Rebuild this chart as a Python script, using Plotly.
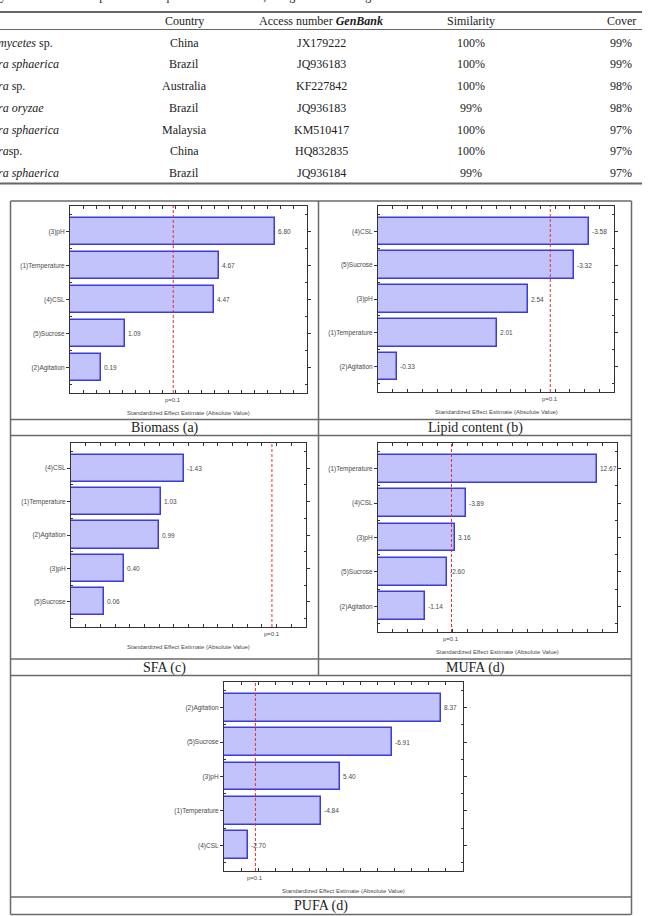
import plotly.graph_objects as go

W, H = 648, 916

# ---------------- table data ----------------
species = ["<i>mycetes</i> sp.", "<i>ra sphaerica</i>", "<i>ra</i> sp.", "<i>ra oryzae</i>",
           "<i>ra sphaerica</i>", "<i>ra</i>sp.", "<i>ra sphaerica</i>"]
countries = ["China", "Brazil", "Australia", "Brazil", "Malaysia", "China", "Brazil"]
accessions = ["JX179222", "JQ936183", "KF227842", "JQ936183", "KM510417", "HQ832835", "JQ936184"]
similarity = ["100%", "100%", "100%", "99%", "100%", "100%", "99%"]
cover = ["99%", "99%", "98%", "98%", "97%", "97%", "97%"]
headers = ["Country", "Access number <b><i>GenBank</i></b>", "Similarity", "Cover"]

# ---------------- Pareto data ----------------
biomass_labels = ["(3)pH", "(1)Temperature", "(4)CSL", "(5)Sucrose", "(2)Agitation"]
biomass_effects = [6.80, 4.67, 4.47, 1.09, 0.19]

lipid_labels = ["(4)CSL", "(5)Sucrose", "(3)pH", "(1)Temperature", "(2)Agitation"]
lipid_effects = [-3.58, -3.32, 2.54, 2.01, -0.33]

sfa_labels = ["(4)CSL", "(1)Temperature", "(2)Agitation", "(3)pH", "(5)Sucrose"]
sfa_effects = [-1.43, 1.03, 0.99, 0.40, 0.06]

mufa_labels = ["(1)Temperature", "(4)CSL", "(3)pH", "(5)Sucrose", "(2)Agitation"]
mufa_effects = [12.67, -3.89, 3.16, -2.60, -1.14]

pufa_labels = ["(2)Agitation", "(5)Sucrose", "(3)pH", "(1)Temperature", "(4)CSL"]
pufa_effects = [8.37, -6.91, 5.40, -4.84, -2.70]

p_crit = 2.92
captions = ["Biomass (a)", "Lipid content (b)", "SFA (c)", "MUFA (d)", "PUFA (d)"]


def px(x):
    return x / W


def py(y):
    return 1 - y / H


# panel layout (pixels): plot x0,x1,y0,y1 ; x-range ; tick step ; caption center x,y
panels = [
    dict(lab=biomass_labels, eff=biomass_effects, box=(70, 307, 206, 393), xr=(-1, 8), dt=0.5, cap=(164.5, 427.5)),
    dict(lab=lipid_labels, eff=lipid_effects, box=(378, 614, 206, 392), xr=(0, 4), dt=0.25, cap=(475, 427.5)),
    dict(lab=sfa_labels, eff=sfa_effects, box=(71, 306, 443, 627), xr=(-0.5, 3.5), dt=0.25, cap=(164.5, 667.5)),
    dict(lab=mufa_labels, eff=mufa_effects, box=(378, 617, 443, 632), xr=(-2, 14), dt=1, cap=(475, 667.5)),
    dict(lab=pufa_labels, eff=pufa_effects, box=(224, 463, 682, 871), xr=(2, 9), dt=0.5, cap=(321, 906)),
]

fig = go.Figure()
shapes = []
annotations = []

SANS = "Liberation Sans"
SERIF = "Liberation Serif"
AX = "#333333"
TXT = "#4a4a4a"

for k, p in enumerate(panels, start=1):
    xs = "" if k == 1 else str(k)
    x0, x1, y0, y1 = p["box"]
    xmin, xmax = p["xr"]
    mags = [abs(v) for v in p["eff"]]
    pos = list(range(len(mags)))
    fig.add_trace(go.Bar(
        x=[m - xmin for m in mags], y=pos, base=xmin, orientation="h", width=0.81,
        marker=dict(color="#c3c3fb", line=dict(color="#3c3cdc", width=1.5)),
        xaxis="x" + xs, yaxis="y" + xs, showlegend=False, hoverinfo="skip"))
    fig.layout["xaxis" + xs] = dict(
        domain=[px(x0), px(x1)], range=[xmin, xmax], anchor="y" + xs,
        showticklabels=False, ticks="inside", tick0=xmin, dtick=p["dt"], ticklen=3,
        tickcolor=AX, showline=True, linecolor=AX, linewidth=1, mirror="ticks",
        showgrid=False, zeroline=False, fixedrange=True)
    fig.layout["yaxis" + xs] = dict(
        domain=[py(y1), py(y0)], range=[4.75, -0.75], anchor="x" + xs,
        tickmode="array", tickvals=pos, ticktext=p["lab"],
        ticks="outside", ticklen=3, tickcolor=AX,
        tickfont=dict(family=SANS, size=6.5, color=TXT),
        minor=dict(tickmode="array", tickvals=[-0.5, 0.5, 1.5, 2.5, 3.5, 4.5],
                   ticks="inside", ticklen=2, tickcolor=AX),
        showline=True, linecolor=AX, linewidth=1, mirror="ticks",
        showgrid=False, zeroline=False, fixedrange=True)
    # value labels
    for i, v in enumerate(p["eff"]):
        annotations.append(dict(
            x=abs(v), y=i, xref="x" + xs, yref="y" + xs, text=f"{v:.2f}",
            showarrow=False, xanchor="left", yanchor="middle", xshift=1,
            font=dict(family=SANS, size=6.5, color=TXT)))
    # critical line
    shapes.append(dict(type="line", xref="x" + xs, yref="y" + xs + " domain",
                       x0=p_crit, x1=p_crit, y0=0, y1=1,
                       line=dict(color="#e03030", width=1, dash="3px,2px")))
    annotations.append(dict(
        x=p_crit, y=0, xref="x" + xs, yref="y" + xs + " domain", text="p=0.1",
        showarrow=False, xanchor="center", yanchor="middle", yshift=-7,
        font=dict(family=SANS, size=6, color=TXT)))
    annotations.append(dict(
        x=0.5, y=py(y1 + 20), xref="x" + xs + " domain", yref="paper",
        text="Standardized Effect Estimate (Absolute Value)",
        showarrow=False, xanchor="center", yanchor="middle",
        font=dict(family=SANS, size=6, color=TXT)))
    cx, cy = p["cap"]
    annotations.append(dict(
        x=px(cx), y=py(cy), xref="paper", yref="paper", text=captions[k - 1],
        showarrow=False, xanchor="center", yanchor="middle",
        font=dict(family=SERIF, size=14, color="#222222")))

# ---------------- frame lines ----------------
FR = dict(color="#6a6a6a", width=1.5)
L, R, T, B = 10.5, 631.5, 201, 914.5
for (a, b, c, d) in [(L, T, R, T), (L, B, R, B), (L, T, L, B), (R, T, R, B),
                     (318.5, T, 318.5, 675.5),
                     (L, 419.5, R, 419.5), (L, 435.5, R, 435.5),
                     (L, 659, R, 659), (L, 675.5, R, 675.5), (L, 897, R, 897)]:
    shapes.append(dict(type="line", xref="paper", yref="paper",
                       x0=px(a), y0=py(b), x1=px(c), y1=py(d), line=FR))

# ---------------- table ----------------
for yy, wd in [(12, 1.8), (29.5, 1), (183.5, 1.8)]:
    shapes.append(dict(type="line", xref="paper", yref="paper",
                       x0=0, x1=px(642), y0=py(yy), y1=py(yy),
                       line=dict(color="#666666", width=wd)))

TF = dict(family=SERIF, size=12, color="#222222")
col_x = [184, 321, 471, 621]
annotations.append(dict(
    x=px(-2), y=py(-4), xref="paper", yref="paper",
    text="y of the isolates compared with sequences of GenBank, using the BLAST algorithm",
    showarrow=False, xanchor="left", yanchor="middle", font=TF))
for cxp, htxt in zip(col_x, headers):
    annotations.append(dict(x=px(cxp), y=py(20.5), xref="paper", yref="paper",
                            text=htxt, showarrow=False, xanchor="center",
                            yanchor="middle", font=TF))
row_y0, row_dy = 42.5, 21.8
for i in range(len(species)):
    yy = py(row_y0 + i * row_dy)
    annotations.append(dict(x=px(-4), y=yy, xref="paper", yref="paper",
                            text=species[i], showarrow=False, xanchor="left",
                            yanchor="middle", font=TF))
    for cxp, val in zip(col_x, [countries[i], accessions[i], similarity[i], cover[i]]):
        annotations.append(dict(x=px(cxp), y=yy, xref="paper", yref="paper",
                                text=val, showarrow=False, xanchor="center",
                                yanchor="middle", font=TF))

fig.update_layout(
    width=W, height=H, margin=dict(l=0, r=0, t=0, b=0),
    paper_bgcolor="white", plot_bgcolor="white",
    shapes=shapes, annotations=annotations, bargap=0,
)

fig.write_html("out.html", config={"displayModeBar": False})
